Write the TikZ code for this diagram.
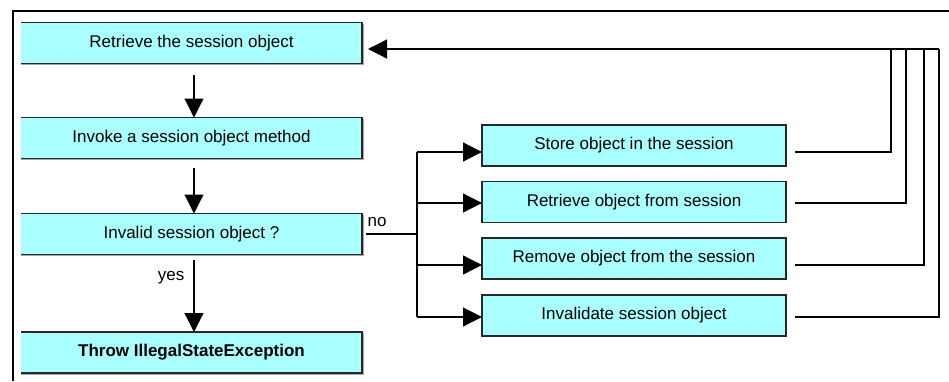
\documentclass[tikz,border=0pt]{standalone}
\usepackage{fontspec}
\setmainfont{Liberation Sans}
\usetikzlibrary{arrows.meta,calc}
\definecolor{boxfill}{RGB}{170,255,255}
\definecolor{boxline}{RGB}{40,40,40}
\tikzset{
  lbox/.style={fill=boxfill, minimum width=341pt, minimum height=41pt,
               inner sep=0pt, outer sep=0pt, font=\fontsize{17}{20}\selectfont},
  rbox/.style={fill=boxfill, draw=boxline, line width=1.3pt, minimum width=304pt,
               minimum height=41pt, inner sep=0pt, outer sep=0pt,
               font=\fontsize{17}{20}\selectfont},
  edge/.style={draw=boxline, line width=1.3pt},
  shade/.style={draw=black!35, line width=0.8pt},
  flow/.style={draw=black, line width=1.2pt, -{Triangle[length=19pt,width=19pt]}},
  link/.style={draw=black, line width=1.2pt},
  back/.style={draw=black, line width=1.1pt},
  lbl/.style={font=\fontsize{17}{20}\selectfont, inner sep=0pt}
}
\begin{document}
\begin{tikzpicture}[x=1pt,y=-1pt]
\useasboundingbox (0,0) rectangle (949,381);

% outer frame (top and left only)
\draw[line width=1.2pt] (949,11) -- (13,11) -- (13,381);

% main column
\node[lbox] (b1) at (191.5,43)    {Retrieve the session object};
\node[lbox] (b2) at (191.5,138)   {Invoke a session object method};
\node[lbox] (b3) at (191.5,234)   {Invalid session object ?};
\node[lbox] (b4) at (191.5,352.5) {\bfseries Throw IllegalStateException};
\foreach \b in {b1,b2,b3,b4}{
  \draw[shade] ([shift={(1.2pt,-1.2pt)}]\b.north east) -- ([shift={(1.2pt,-1.2pt)}]\b.south east)
               -- ([shift={(0pt,-1.2pt)}]\b.south west);
  \draw[edge] (\b.north west) -- (\b.north east) -- (\b.south east) -- (\b.south west);
}

% operations column
\node[rbox] (r1) at (634,145.5) {Store object in the session};
\node[rbox] (r2) at (634,202)   {Retrieve object from session};
\node[rbox] (r3) at (634,258.5) {Remove object from the session};
\node[rbox] (r4) at (634,315.5) {Invalidate session object};

% downward flow
\draw[flow, shorten <=11.5pt] ([xshift=2.5pt]b1.south) -- ([xshift=2.5pt]b2.north);
\draw[flow, shorten <=9.5pt]  ([xshift=2.5pt]b2.south) -- ([xshift=2.5pt]b3.north);
\draw[flow, shorten <=5.5pt]  ([xshift=2.5pt]b3.south) -- ([xshift=2.5pt]b4.north)
  node[lbl, pos=0.3, left=9pt] {yes};

% "no" branch to the four operations
\coordinate (jn) at (417,234);
\node[lbl] (no) at (377,222) {no};
\draw[link, shorten <=4pt] (b3.east) -- (jn);
\coordinate (e1) at ([yshift=-6.5pt]r1.west);
\coordinate (e2) at ([yshift=-1pt]r2.west);
\coordinate (e3) at ([yshift=-6.5pt]r3.west);
\coordinate (e4) at ([yshift=-1.5pt]r4.west);
\draw[link] (jn |- e1) -- (jn |- e4);
\foreach \e in {e1,e2,e3,e4}{
  \draw[flow] (jn |- \e) -- (\e);
}

% return paths to the top box
\coordinate (top) at ([yshift=-6pt]b1.east);
\draw[back, shorten <=9pt] ([yshift=-6.5pt]r1.east) -| (891,49);
\draw[back, shorten <=9pt] ([yshift=-1pt]r2.east)   -| (906,49);
\draw[back, shorten <=9pt] ([yshift=-6.5pt]r3.east) -| (924,49);
\draw[back, shorten <=9pt] ([yshift=-1.5pt]r4.east) -| (939,49) coordinate (corner);
\draw[flow, shorten >=6pt] (corner) -- (top);
\end{tikzpicture}
\end{document}
